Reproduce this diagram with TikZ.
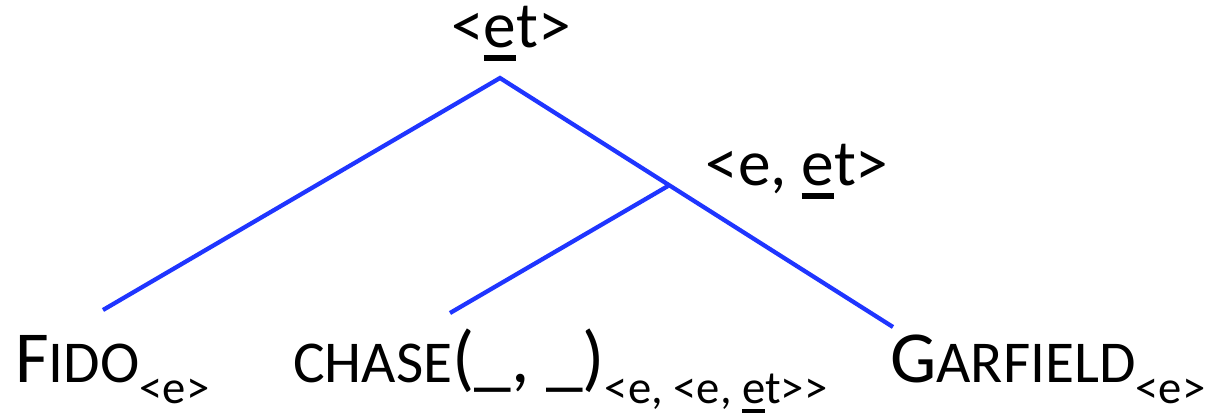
\documentclass[tikz,border=0pt]{standalone}
\usepackage{fontspec}
\setmainfont{Carlito}
\usetikzlibrary{positioning}
\definecolor{branch}{HTML}{1F35FF}
\newcommand\ulin[1]{\vtop{\hbox{#1}\kern.12em\hrule height .09em}}
\newcommand\scx[1]{{\fontsize{44.5}{44.5}\selectfont #1}}
\newcommand\subx[1]{{\fontsize{35}{35}\selectfont\raisebox{-16pt}{#1}}}
\tikzset{x=.75pt,y=-.75pt,
  edge/.style={draw=branch,line width=3.2pt},
  leaf/.style={anchor=base west,inner sep=0pt,font=\fontsize{55}{55}\selectfont},
  typelbl/.style={anchor=base,inner sep=0pt,font=\fontsize{49}{49}\selectfont}}
\begin{document}
\begin{tikzpicture}
\useasboundingbox (0,0) rectangle (1211,412);
\coordinate (root) at (500,78);
\coordinate (vp) at (668,186);
\coordinate (fidotip) at (103,310);
\coordinate (chasetip) at (450,313);
\coordinate (garftip) at (893,327);
\draw[edge] (fidotip)--(root)--(garftip);
\draw[edge] (chasetip)--(vp);
\node[typelbl] (rootlbl) at (511,47) {<\ulin{e}t>};
\node[typelbl] (vplbl) at (797,185) {<e, \ulin{e}t>};
\node[leaf] (fido) at (15,382) {F\scx{IDO}\subx{<e>}};
\node[leaf] (chase) at (293,382) {\scx{CHASE}(\_, \_)\subx{<e, <e, \ulin{e}t>{}>}};
\node[leaf] (garfield) at (890,382) {G\scx{ARFIELD}\subx{<e>}};
\end{tikzpicture}
\end{document}
